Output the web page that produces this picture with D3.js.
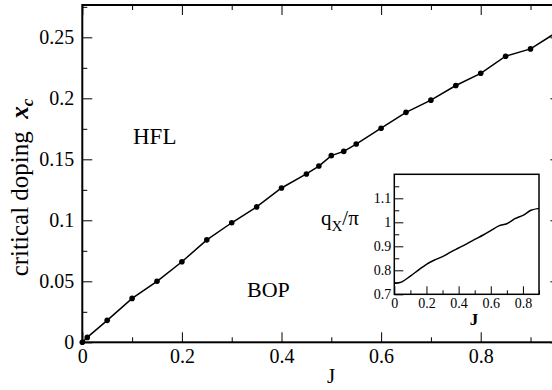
<!DOCTYPE html>
<html>
<head>
<meta charset="utf-8">
<title>critical doping vs J</title>
<style>
  body { margin: 0; background: #fff; }
  text { font-family: "Liberation Serif", "Times New Roman", serif; fill: #000; }
</style>
</head>
<body>
<svg width="552" height="390"></svg>
<script src="https://d3js.org/d3.v7.min.js"></script>
<script>
// main curve: critical doping x_c vs J
var jMain = [0, 0.01, 0.05, 0.1, 0.15, 0.2, 0.25, 0.3, 0.35, 0.4, 0.45, 0.475, 0.5, 0.525, 0.55,
             0.6, 0.65, 0.7, 0.75, 0.8, 0.85, 0.9, 0.95];
var xcMain = [0, 0.004, 0.018, 0.036, 0.050, 0.066, 0.084, 0.098, 0.111, 0.1265, 0.138, 0.1445, 0.153,
              0.1565, 0.1625, 0.1755, 0.1885, 0.1985, 0.2105, 0.2205, 0.2345, 0.2405, 0.2535];

// inset: q_x / pi vs J
var jInset = [0, 0.035, 0.1, 0.15, 0.2, 0.25, 0.3, 0.35, 0.4, 0.45, 0.5, 0.55, 0.6, 0.65, 0.7,
              0.75, 0.8, 0.85, 0.9];
var qInset = [0.746, 0.749, 0.776, 0.801, 0.825, 0.843, 0.857, 0.876, 0.893, 0.910, 0.929, 0.946,
              0.965, 0.985, 0.994, 1.015, 1.029, 1.050, 1.058];

var xMajor = [0, 0.2, 0.4, 0.6, 0.8];
var xMinor = [0.1, 0.3, 0.5, 0.7, 0.9];
var yMajor = [0, 0.05, 0.1, 0.15, 0.2, 0.25];
var yMinor = [0.025, 0.075, 0.125, 0.175, 0.225, 0.275];

var inXMajor = [0, 0.2, 0.4, 0.6, 0.8];
var inXMinor = [0.1, 0.3, 0.5, 0.7, 0.9];
var inYMajor = [0.7, 0.8, 0.9, 1, 1.1];
var inYMinor = [0.75, 0.85, 0.95, 1.05, 1.15];

var svg = d3.select("svg");

// --- main plot ---
var L = 82.3, R = 560.4, T = 5, B = 342.3;
var x = d3.scaleLinear().domain([0, 0.96]).range([L, R]);
var y = d3.scaleLinear().domain([0, 0.2765]).range([B, T]);

function fmt(d) { return d === 0 ? "0" : String(+d.toFixed(3)); }

function addAxis(axis, transform) {
  var g = svg.append("g").attr("transform", transform).call(axis);
  g.attr("font-family", null).attr("font-size", null);
  g.select(".domain").remove();
  g.selectAll(".tick line").attr("stroke", "#000").attr("stroke-width", 1);
  g.selectAll("text").attr("fill", "#000");
  return g;
}

// bottom
var gb = addAxis(d3.axisBottom(x).tickValues(xMajor).tickSize(-10).tickPadding(0).tickFormat(fmt),
  "translate(0," + B + ")");
gb.selectAll("text").attr("font-size", 20).attr("dy", null).attr("y", 21);
addAxis(d3.axisBottom(x).tickValues(xMinor).tickSize(-5).tickFormat(""), "translate(0," + B + ")");
// top
addAxis(d3.axisTop(x).tickValues(xMajor).tickSize(-10).tickFormat(""), "translate(0," + T + ")");
addAxis(d3.axisTop(x).tickValues(xMinor).tickSize(-5).tickFormat(""), "translate(0," + T + ")");
// left
var gl = addAxis(d3.axisLeft(y).tickValues(yMajor).tickSize(-10).tickPadding(0).tickFormat(fmt),
  "translate(" + L + ",0)");
gl.selectAll("text").attr("font-size", 20).attr("x", -8).attr("dy", "0.33em");
var yMinorIn = yMinor.filter(function(v) { return v < 0.2765; });
addAxis(d3.axisLeft(y).tickValues(yMinorIn).tickSize(-5).tickFormat(""), "translate(" + L + ",0)");
// right
addAxis(d3.axisRight(y).tickValues(yMajor).tickSize(-10).tickFormat(""), "translate(" + R + ",0)");
addAxis(d3.axisRight(y).tickValues(yMinorIn).tickSize(-5).tickFormat(""), "translate(" + R + ",0)");

// frame
svg.append("rect")
  .attr("x", L).attr("y", T).attr("width", R - L).attr("height", B - T)
  .attr("fill", "none").attr("stroke", "#000").attr("stroke-width", 2);

var mainData = jMain.map(function(j, i) { return [j, xcMain[i]]; });
svg.append("path")
  .datum(mainData)
  .attr("fill", "none").attr("stroke", "#000").attr("stroke-width", 1.5)
  .attr("d", d3.line().x(function(d) { return x(d[0]); }).y(function(d) { return y(d[1]); }));
svg.selectAll("circle.pt")
  .data(mainData)
  .enter().append("circle")
  .attr("class", "pt")
  .attr("cx", function(d) { return x(d[0]); })
  .attr("cy", function(d) { return y(d[1]); })
  .attr("r", 2.8)
  .attr("fill", "#000");

// axis titles
svg.append("text")
  .attr("x", 331).attr("y", 383)
  .attr("text-anchor", "middle").attr("font-size", 21)
  .text("J");

var yt = svg.append("text")
  .attr("transform", "translate(28,187.5) rotate(-90)")
  .attr("text-anchor", "middle").attr("font-size", 25);
yt.append("tspan").text("critical doping\u00a0\u00a0");
yt.append("tspan").attr("font-weight", "bold").attr("font-style", "italic").text("x");
yt.append("tspan").attr("font-weight", "bold").attr("font-style", "italic")
  .attr("font-size", 17).attr("dy", 5).text("c");

svg.append("text").attr("x", 133).attr("y", 144).attr("font-size", 23).text("HFL");
svg.append("text").attr("x", 247).attr("y", 297).attr("font-size", 22).text("BOP");

// --- inset ---
var iL = 394.3, iR = 539, iT = 174.3, iB = 294.3;
var ix = d3.scaleLinear().domain([0, 0.9]).range([iL, iR]);
var iy = d3.scaleLinear().domain([0.7, 1.2]).range([iB, iT]);

svg.append("rect").attr("x", iL).attr("y", iT).attr("width", iR - iL).attr("height", iB - iT)
  .attr("fill", "#fff");

var ib = addAxis(d3.axisBottom(ix).tickValues(inXMajor).tickSize(-8).tickPadding(0).tickFormat(fmt),
  "translate(0," + iB + ")");
ib.selectAll("text").attr("font-size", 14).attr("dy", null).attr("y", 14);
addAxis(d3.axisBottom(ix).tickValues(inXMinor).tickSize(-4).tickFormat(""), "translate(0," + iB + ")");
var il = addAxis(d3.axisLeft(iy).tickValues(inYMajor).tickSize(-9).tickPadding(0).tickFormat(fmt),
  "translate(" + iL + ",0)");
il.selectAll("text").attr("font-size", 14).attr("x", -3).attr("dy", "0.33em");
addAxis(d3.axisLeft(iy).tickValues(inYMinor).tickSize(-5).tickFormat(""), "translate(" + iL + ",0)");

svg.append("path")
  .datum(jInset.map(function(j, i) { return [j, qInset[i]]; }))
  .attr("fill", "none").attr("stroke", "#000").attr("stroke-width", 1.5)
  .attr("d", d3.line().curve(d3.curveMonotoneX)
    .x(function(d) { return ix(d[0]); }).y(function(d) { return iy(d[1]); }));

svg.append("rect").attr("x", iL).attr("y", iT).attr("width", iR - iL).attr("height", iB - iT)
  .attr("fill", "none").attr("stroke", "#000").attr("stroke-width", 1.5);

svg.append("text").attr("x", 474).attr("y", 325).attr("text-anchor", "middle")
  .attr("font-size", 17).attr("font-weight", "bold").text("J");

var qt = svg.append("text").attr("x", 321).attr("y", 225).attr("font-size", 21);
qt.append("tspan").text("q");
qt.append("tspan").attr("font-size", 15).attr("dy", 6).text("X");
qt.append("tspan").attr("dy", -6).text("/\u03c0");
</script>
</body>
</html>
